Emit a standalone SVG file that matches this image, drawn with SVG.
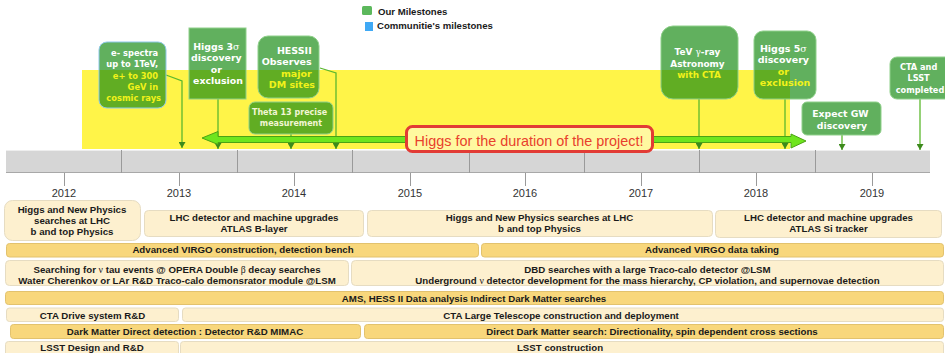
<svg xmlns="http://www.w3.org/2000/svg" width="945" height="353" viewBox="0 0 945 353">
  <defs>
    <style>
      .ms { fill: #168a12; fill-opacity: 0.68; stroke: #8fd08a; stroke-width: 1; }
      .mt { font-family: "DejaVu Sans", Verdana, sans-serif; font-weight: bold; }
      .w { fill: #ffffff; }
      .y { fill: #f2f21a; }
      .sig { font-family: "DejaVu Serif", "Liberation Serif", serif; font-weight: normal; }
      .conn { fill: none; stroke: #5cb82e; stroke-width: 1.3; }
      .year { font-family: "Liberation Sans", Arial, sans-serif; font-size: 11px; fill: #333333; text-anchor: middle; }
      .tick { stroke: #9a9a9a; stroke-width: 1; }
      .lt { fill: #fdf0cf; stroke: #e6dcc2; stroke-width: 1; }
      .gd { fill: #f8d77c; stroke: #e2c26e; stroke-width: 1; }
      .bt { font-family: "Liberation Sans", Arial, sans-serif; font-weight: bold; font-size: 9.7px; fill: #1a1a1a; text-anchor: middle; }
      .lg { font-family: "Liberation Sans", Arial, sans-serif; font-weight: bold; font-size: 9.6px; fill: #1a1a1a; }
    </style>
    <marker id="tip" markerUnits="userSpaceOnUse" markerWidth="7" markerHeight="7" refX="6" refY="3.5" orient="auto">
      <path d="M0,0 L6,3.5 L0,7 z" fill="#3d8a1c"/>
    </marker>
  </defs>

  <rect width="945" height="353" fill="#ffffff"/>

  <!-- legend -->
  <g id="legend">
    <rect x="362" y="6" width="10" height="9" rx="1.5" fill="#5cb85c"/>
    <text class="lg" x="378" y="15">Our Milestones</text>
    <rect x="365" y="22" width="8" height="9" fill="#3fa9f5"/>
    <text class="lg" x="377" y="28.5">Communitie's milestones</text>
  </g>

  <!-- project duration band -->
  <rect id="band" x="82" y="70" width="708" height="79" fill="#fff448"/>

  <!-- milestone connectors -->
  <g id="connectors">
    <polyline class="conn" points="166,75 182,81 182,148" marker-end="url(#tip)"/>
    <line class="conn" x1="218" y1="99" x2="218" y2="149" marker-end="url(#tip)"/>
    <polyline class="conn" points="320,68 336,73 336,149" marker-end="url(#tip)"/>
    <line class="conn" x1="291" y1="134" x2="291" y2="149" marker-end="url(#tip)"/>
    <line class="conn" x1="699" y1="99" x2="699" y2="149" marker-end="url(#tip)"/>
    <line class="conn" x1="785" y1="99" x2="785" y2="149" marker-end="url(#tip)"/>
    <line class="conn" x1="842" y1="135" x2="842" y2="150" marker-end="url(#tip)"/>
    <line class="conn" x1="920" y1="99" x2="920" y2="150" marker-end="url(#tip)"/>
  </g>

  <!-- milestones -->
  <g id="m-espectra">
    <rect class="ms" x="99" y="42" width="67" height="66" rx="8" style="stroke:#8ec8e8"/>
    <text class="mt" font-size="8.3" text-anchor="end">
      <tspan class="w" x="161" y="56">e- spectra</tspan>
      <tspan class="w" x="161" y="67.3">up to 1TeV,</tspan>
      <tspan class="y" x="161" y="78.6">e+ to 300</tspan>
      <tspan class="y" x="161" y="89.9">GeV in</tspan>
      <tspan class="y" x="161" y="101.2">cosmic rays</tspan>
    </text>
  </g>

  <g id="m-higgs3">
    <rect class="ms" x="189" y="28" width="57" height="71"/>
    <text class="mt w" font-size="9.4" text-anchor="middle">
      <tspan x="218" y="49.5">Higgs 3<tspan class="sig">σ</tspan></tspan>
      <tspan x="218" y="61">discovery</tspan>
      <tspan x="218" y="72.5">or</tspan>
      <tspan x="218" y="84">exclusion</tspan>
    </text>
  </g>

  <g id="m-hessii">
    <rect class="ms" x="258" y="36" width="61" height="62" rx="10"/>
    <text class="mt" font-size="9.5" text-anchor="end">
      <tspan class="w" x="315" y="53.5">HESSII</tspan>
      <tspan class="w" x="315" y="65">Observes</tspan>
      <tspan class="y" x="315" y="76.5">major</tspan>
      <tspan class="y" x="315" y="88">DM sites</tspan>
    </text>
  </g>

  <g id="m-theta13">
    <rect class="ms" x="249" y="102" width="84" height="32" rx="6"/>
    <text class="mt" font-size="8" text-anchor="middle" fill="#f2f6d4">
      <tspan x="291" y="115">Theta 13 precise</tspan>
      <tspan x="291" y="126.2">measurement</tspan>
    </text>
  </g>

  <g id="m-cta">
    <rect class="ms" x="661" y="26" width="77" height="73" rx="12"/>
    <text class="mt" font-size="8.9" text-anchor="middle">
      <tspan class="w" x="699" y="55">TeV <tspan class="sig">γ</tspan>-ray</tspan>
      <tspan class="w" x="699" y="66.7">Astronomy</tspan>
      <tspan class="y" x="699" y="78.4">with CTA</tspan>
    </text>
  </g>

  <g id="m-higgs5">
    <rect class="ms" x="754" y="31" width="62" height="68" rx="9"/>
    <text class="mt" font-size="9.5" text-anchor="middle">
      <tspan class="w" x="785" y="51.5">Higgs 5<tspan class="sig">σ</tspan></tspan>
      <tspan class="w" x="785" y="63">discovery</tspan>
      <tspan class="y" x="785" y="74.5">or</tspan>
      <tspan class="y" x="785" y="86">exclusion</tspan>
    </text>
  </g>

  <g id="m-gw">
    <rect class="ms" x="802" y="102" width="79" height="33" rx="5"/>
    <text class="mt w" font-size="9.3" text-anchor="middle">
      <tspan x="842" y="117">Expect GW</tspan>
      <tspan x="842" y="128.5">discovery</tspan>
    </text>
  </g>

  <g id="m-completed">
    <rect class="ms" x="890" y="57" width="64" height="42" rx="7"/>
    <text class="mt w" font-size="8.2" text-anchor="middle">
      <tspan x="920" y="70">CTA and</tspan>
      <tspan x="920" y="81.3">LSST</tspan>
      <tspan x="920" y="92.6">completed</tspan>
    </text>
  </g>

  <!-- timeline -->
  <g id="timeline">
    <rect x="6" y="150" width="924" height="23" fill="#d6d6d6"/>
    <line x1="6" y1="150.5" x2="930" y2="150.5" stroke="#eeeeee"/>
    <line x1="6" y1="172.5" x2="930" y2="172.5" stroke="#a8a8a8"/>
    <g class="tick">
      <line x1="121.5" y1="150" x2="121.5" y2="173"/>
      <line x1="237.5" y1="150" x2="237.5" y2="173"/>
      <line x1="352.5" y1="150" x2="352.5" y2="173"/>
      <line x1="469.5" y1="150" x2="469.5" y2="173"/>
      <line x1="584.5" y1="150" x2="584.5" y2="173"/>
      <line x1="699.5" y1="150" x2="699.5" y2="173"/>
      <line x1="815.5" y1="150" x2="815.5" y2="173"/>
      <line x1="64.5" y1="173" x2="64.5" y2="186"/>
      <line x1="179.5" y1="173" x2="179.5" y2="186"/>
      <line x1="294.5" y1="173" x2="294.5" y2="186"/>
      <line x1="410.5" y1="173" x2="410.5" y2="186"/>
      <line x1="525.5" y1="173" x2="525.5" y2="186"/>
      <line x1="641.5" y1="173" x2="641.5" y2="186"/>
      <line x1="756.5" y1="173" x2="756.5" y2="186"/>
      <line x1="872.5" y1="173" x2="872.5" y2="186"/>
    </g>
    <text class="year" x="64" y="197">2012</text>
    <text class="year" x="179" y="197">2013</text>
    <text class="year" x="294" y="197">2014</text>
    <text class="year" x="410" y="197">2015</text>
    <text class="year" x="525" y="197">2016</text>
    <text class="year" x="641" y="197">2017</text>
    <text class="year" x="756" y="197">2018</text>
    <text class="year" x="872" y="197">2019</text>
  </g>

  <!-- project duration arrow -->
  <g id="duration">
    <path d="M202,138 L218,131.5 L218,136.5 L791,136.5 L791,134 L806,141 L791,148 L791,142.5 L218,142.5 L218,144.5 Z"
          fill="#6ee51e" stroke="#4ca314" stroke-width="1" stroke-linejoin="round"/>
    <rect x="406.5" y="126.5" width="246" height="25" rx="6" fill="#fff9a0" stroke="#e23b35" stroke-width="3"/>
    <text x="529" y="145.5" text-anchor="middle" font-family="Liberation Sans, Arial, sans-serif" font-size="14.4" fill="#e8402c">Higgs for the duration of the project!</text>
  </g>

  <!-- activities -->
  <g id="row1">
    <rect class="lt" x="4.5" y="200.5" width="136" height="40" rx="8"/>
    <text class="bt"><tspan x="72" y="212.5">Higgs and New Physics</tspan><tspan x="72" y="223.5">searches at LHC</tspan><tspan x="72" y="234.5">b and top Physics</tspan></text>
    <rect class="lt" x="144.5" y="210.5" width="219" height="26" rx="4"/>
    <text class="bt"><tspan x="254" y="221">LHC detector and machine upgrades</tspan><tspan x="254" y="232">ATLAS B-layer</tspan></text>
    <rect class="lt" x="367.5" y="210.5" width="345" height="26" rx="4"/>
    <text class="bt"><tspan x="539.5" y="221">Higgs and New Physics searches at LHC</tspan><tspan x="539.5" y="232">b and top Physics</tspan></text>
    <rect class="lt" x="715.5" y="210.5" width="226" height="27" rx="4"/>
    <text class="bt"><tspan x="828.5" y="221">LHC detector and machine upgrades</tspan><tspan x="828.5" y="232">ATLAS Si tracker</tspan></text>
  </g>

  <g id="row2">
    <rect class="gd" x="6.5" y="243.5" width="472" height="13.5" rx="3"/>
    <text class="bt" x="243" y="253">Advanced VIRGO construction, detection bench</text>
    <rect class="gd" x="481.5" y="243.5" width="462" height="13.5" rx="3"/>
    <text class="bt" x="712" y="253">Advanced VIRGO data taking</text>
  </g>

  <g id="row3">
    <rect class="lt" x="5.5" y="260.5" width="343" height="25" rx="4"/>
    <text class="bt"><tspan x="177" y="272.5">Searching for <tspan font-family="Liberation Serif, serif" font-weight="normal">ν</tspan> tau events @ OPERA Double <tspan font-family="Liberation Serif, serif" font-weight="normal">β</tspan> decay searches</tspan><tspan x="177" y="283.5">Water Cherenkov or LAr  R&amp;D Traco-calo demonsrator module @LSM</tspan></text>
    <rect class="lt" x="351.5" y="260.5" width="592" height="25" rx="4"/>
    <text class="bt"><tspan x="647.5" y="272.5">DBD searches with a large Traco-calo detector @LSM</tspan><tspan x="647.5" y="283.5">Underground <tspan font-family="Liberation Serif, serif" font-weight="normal">ν</tspan> detector development for the mass hierarchy, CP violation, and supernovae detection</tspan></text>
  </g>

  <g id="row4">
    <rect class="gd" x="5.5" y="291.5" width="938" height="13" rx="3"/>
    <text class="bt" x="474" y="301.5">AMS, HESS II Data analysis  Indirect Dark Matter searches</text>
  </g>

  <g id="row5">
    <rect class="lt" x="6.5" y="308" width="172" height="13.5" rx="3"/>
    <text class="bt" x="92.5" y="318.5">CTA Drive system R&amp;D</text>
    <rect class="lt" x="182.5" y="308" width="761" height="13.5" rx="3"/>
    <text class="bt" x="561" y="318.5">CTA Large Telescope construction and deployment</text>
  </g>

  <g id="row6">
    <rect class="gd" x="10.5" y="324.5" width="350" height="14" rx="3"/>
    <text class="bt" x="185" y="334.5">Dark Matter Direct detection : Detector R&amp;D MIMAC</text>
    <rect class="gd" x="364.5" y="324.5" width="579" height="14" rx="3"/>
    <text class="bt" x="652" y="334.5">Direct Dark Matter search: Directionality, spin dependent cross sections</text>
  </g>

  <g id="row7">
    <rect class="lt" x="5.5" y="341.5" width="173" height="16" rx="3"/>
    <text class="bt" x="92" y="350.5">LSST Design and R&amp;D</text>
    <rect class="lt" x="180.5" y="341.5" width="763" height="16" rx="3"/>
    <text class="bt" x="560" y="350.5">LSST construction</text>
  </g>
</svg>
